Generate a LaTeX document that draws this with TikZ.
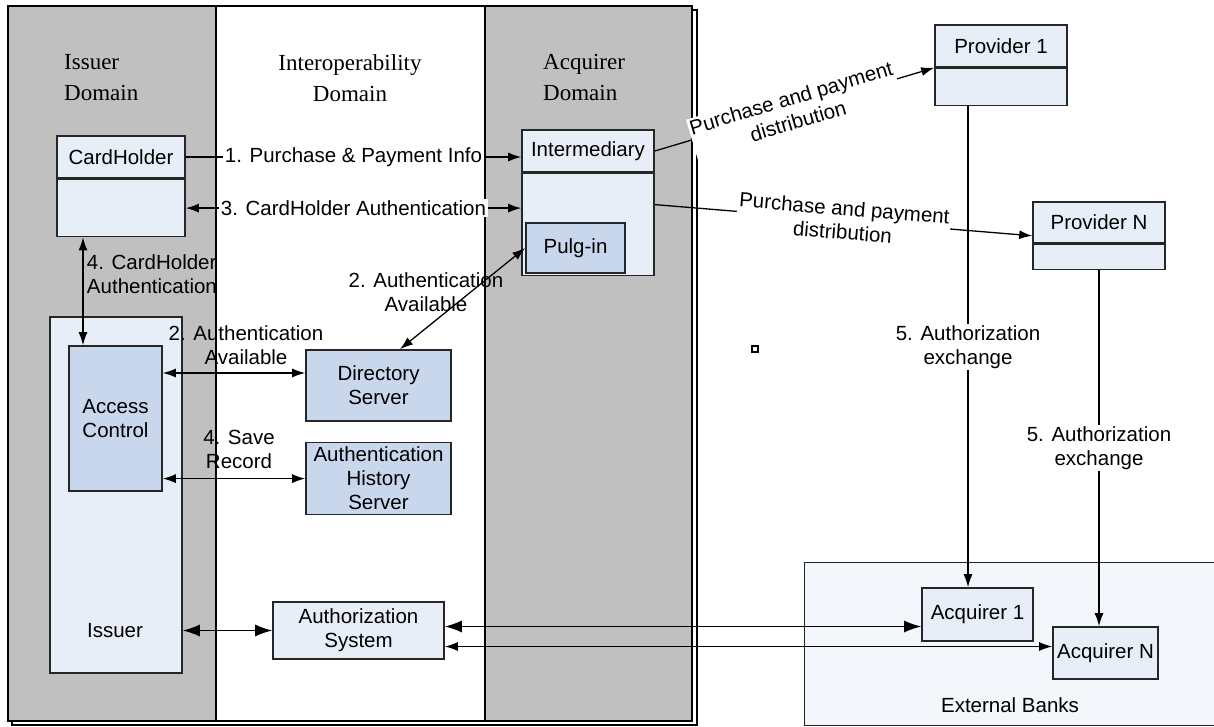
\documentclass[tikz,border=0pt]{standalone}
\usepackage{fontspec}
\setmainfont{Liberation Sans}
\newfontfamily\domainfont{Liberation Serif}
\usetikzlibrary{positioning,arrows.meta}
\definecolor{lanegray}{HTML}{C0C0C0}
\definecolor{boxblue}{HTML}{E8EEF8}
\definecolor{dotblue}{HTML}{C8D7EC}
\definecolor{bankblue}{HTML}{F3F6FB}

\begin{document}
\begin{tikzpicture}[x=1pt, y=-1pt, >={Latex[length=13pt,width=9pt]},
        font=\fontsize{20.5}{24}\selectfont,
        box/.style={draw=black!85, line width=1.6pt, fill=boxblue, inner sep=0pt, align=center},
        dotbox/.style={box, fill=dotblue},
        cut/.style={fill=white, inner sep=1.5pt, align=center},
        flow/.style={line width=1.3pt},
        bigflow/.style={flow, >={Latex[length=17pt,width=12pt]}},
        domaintitle/.style={font=\domainfont\fontsize{23}{31}\selectfont, inner sep=0pt}]
        \useasboundingbox (0,0) rectangle (1214,727);

        % Domains
        \draw[line width=1.6pt, fill=white] (12,10) rectangle (697,725);
        \draw[line width=1.8pt, fill=lanegray] (8,6) rectangle (692,721);
        \draw[line width=1.6pt, fill=white] (216,6) rectangle (485,721);
        \node[domaintitle, anchor=west, align=left] (issdom) at (64,78) {Issuer\\Domain};
        \node[domaintitle, align=center] (intdom) at (350,78) {Interoperability\\Domain};
        \node[domaintitle, anchor=west, align=left] (acqdom) at (543,78) {Acquirer\\Domain};
        \node[box, fill=bankblue, line width=1.4pt, minimum width=420, minimum height=163, anchor=north west] (banks) at (804,562) {};
        \node (bankslbl) at (1010,705) {External Banks};

        % Nodes
        \node[box, minimum width=128, minimum height=42] (cardtop) at (121,157) {CardHolder};
        \node[box, minimum width=128, minimum height=57, below=0pt of cardtop] (cardlow) {};
        \node[box, minimum width=132, minimum height=356] (issuer) at (116,495) {};
        \node (issuerlbl) at (115,631) {Issuer};
        \node[dotbox, minimum width=93, minimum height=145] (access) at (115.5,418.5) {Access\\Control};
        \node[dotbox, minimum width=145, minimum height=71] (dir) at (378.5,385.5) {Directory\\Server};
        \node[dotbox, minimum width=145, minimum height=72, below=20pt of dir] (hist) {Authentication\\History\\Server};
        \node[box, minimum width=171, minimum height=57] (authsys) at (358.5,630.5) {Authorization\\System};
        \node[box, minimum width=132, minimum height=42] (intertop) at (588,151) {Intermediary};
        \node[box, minimum width=132, minimum height=102, below=0pt of intertop] (interlow) {};
        \node[dotbox, minimum width=99, minimum height=50] (plug) at (575.5,248) {Pulg-in};
        \node[box, minimum width=132, minimum height=42] (p1top) at (1001,46) {Provider 1};
        \node[box, minimum width=132, minimum height=37, below=0pt of p1top] (p1low) {};
        \node[box, minimum width=132, minimum height=41] (pNtop) at (1099,222.5) {Provider N};
        \node[box, minimum width=132, minimum height=25, below=0pt of pNtop] (pNlow) {};
        \node[box, minimum width=111, minimum height=53] (acq1) at (977.5,614.5) {Acquirer 1};
        \node[box, minimum width=105, minimum height=52] (acqN) at (1105.5,653) {Acquirer N};
        \node[draw, line width=1.5pt, minimum size=6pt, inner sep=0pt] (speck) at (755,349) {};

        % Free ends
        \coordinate (dirin) at ([yshift=12.5pt]dir.west);
        \coordinate (dirtop) at ([xshift=21.5pt]dir.north);
        \coordinate (cardfoot) at ([xshift=-38pt]cardlow.south);
        \coordinate (ax1) at ([yshift=4pt]authsys.east);
        \coordinate (axN) at ([yshift=-16pt]authsys.east);
        \coordinate (pur2) at ([yshift=20pt]interlow.east);
        \coordinate (pNin) at ([yshift=8pt]pNtop.south west);
        \coordinate (p1foot) at ([xshift=-33pt]p1low.south);

        % Arrows
        \draw[flow, ->] (cardtop.east) -- node[cut] {1. Purchase \& Payment Info} (cardtop.east -| intertop.west);
        \draw[flow, <->] (cardlow.east) -- node[cut] {3. CardHolder Authentication} (cardlow.east -| interlow.west);
        \draw[flow, <->] (cardfoot) -- node[pos=0.34, right, align=left] {4. CardHolder\\Authentication} (cardfoot |- access.north);
        \draw[flow, <->] (access.east |- dirin) -- (dirin);
        \node[align=center] (avail1) at (246,345) {2. Authentication\\Available};
        \draw[flow, <->] (access.east |- hist.west) -- (hist.west);
        \node[align=center] (save) at (239,449.5) {4. Save\\Record};
        \draw[flow, <->] (dirtop) -- (plug.west);
        \node[align=center] (avail2) at (426,292) {2. Authentication\\Available};
        \draw[bigflow, <->] (issuer.east |- authsys.west) -- (authsys.west);
        \draw[bigflow, <->] (ax1) -- (ax1 -| acq1.west);
        \draw[flow, <->] (axN) -- (axN -| acqN.west);
        \draw[flow, ->] (intertop.east) -- node[cut, sloped] {Purchase and payment\\distribution} (p1top.south west);
        \draw[flow, ->] (pur2) -- node[cut, sloped] {Purchase and payment\\distribution} (pNin);
        \draw[flow, ->] (p1foot) -- node[cut] {5. Authorization\\exchange} (p1foot |- acq1.north);
        \draw[flow, ->] (pNlow.south) -- node[cut] {5. Authorization\\exchange} (pNlow.south |- acqN.north);
    \end{tikzpicture}
\end{document}
